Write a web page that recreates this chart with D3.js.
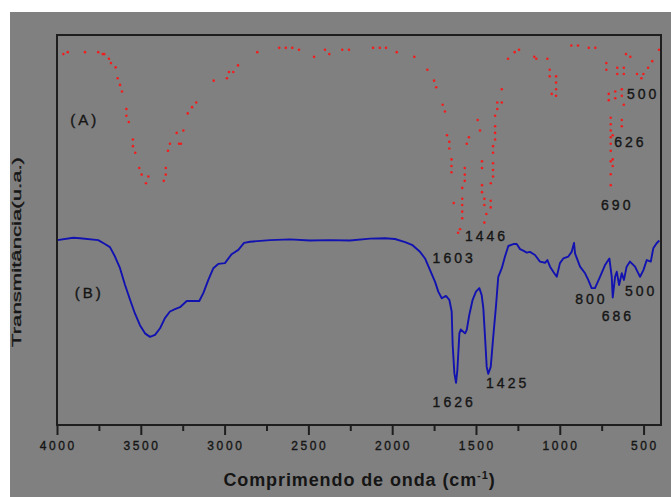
<!DOCTYPE html>
<html>
<head>
<meta charset="utf-8">
<script src="https://cdn.jsdelivr.net/npm/d3@7"></script>
<style>
  html, body { margin: 0; padding: 0; background: #ffffff; }
  svg { display: block; }
  text { font-family: "Liberation Sans", Arial, sans-serif; fill: #151515; }
</style>
</head>
<body>
<svg id="chart" width="671" height="497"></svg>
<script>
// Spectrum (A): sampled points, wavenumber (cm-1) and transmittance (a.u.)
const specA_wn = [3962,3936,3833,3754,3727,3718,3690,3678,3650,3638,3624,3612,3586,3586,3572,3547,3547,3533,3509,3495,3469,3455,3363,3351,3351,3338,3326,3286,3272,3260,3246,3220,3194,3169,3065,2986,2974,2948,2920,2805,2674,2635,2596,2556,2466,2401,2375,2298,2258,2114,2074,2037,1973,1868,1790,1750,1737,1699,1685,1673,1659,1659,1646,1646,1646,1633,1607,1595,1582,1582,1582,1582,1582,1567,1567,1567,1555,1542,1490,1476,1464,1464,1464,1464,1450,1450,1438,1450,1412,1412,1412,1398,1398,1398,1398,1398,1386,1386,1386,1386,1373,1373,1346,1346,1309,1269,1243,1152,1140,1074,1060,1060,1048,1022,1022,1022,1022,931,891,827,788,722,722,708,708,696,696,696,696,684,696,696,684,696,684,696,696,669,669,657,657,630,630,618,630,630,618,618,605,579,539,513,501,473,448,408];
const specA_t = [95.1,95.6,95.6,95.6,95.1,95.1,93.9,92.8,91.7,88.9,87.2,85.5,81.0,79.3,77.7,73.2,71.5,69.8,65.9,64.2,62.0,63.7,62.6,64.2,65.9,70.3,72.1,74.9,72.1,72.1,75.5,79.9,81.5,82.7,88.3,88.9,90.5,90.5,92.2,95.6,96.7,96.7,96.7,96.2,94.4,96.2,95.1,96.2,96.2,96.7,96.7,96.7,95.6,94.4,91.1,88.3,86.6,82.1,80.4,74.3,72.6,70.9,68.1,66.4,64.8,56.9,49.3,50.2,53.0,54.7,56.4,58.0,60.8,62.6,64.2,65.9,72.1,73.8,78.2,75.5,67.6,65.9,61.5,59.7,58.0,56.4,54.1,51.9,57.5,55.8,62.0,63.7,65.4,67.1,69.8,71.5,73.2,74.9,76.6,79.3,81.0,82.7,82.7,86.1,93.9,95.6,96.2,94.4,93.9,93.9,91.1,89.4,84.9,89.4,87.8,86.1,84.4,97.3,97.3,96.7,96.7,92.8,91.1,84.9,83.3,78.8,77.1,75.5,73.8,74.3,72.1,70.3,68.1,67.6,66.4,64.3,61.5,85.5,83.8,91.6,90.0,86.1,84.4,82.1,78.2,76.6,91.6,90.0,95.1,94.4,90.0,88.9,90.0,91.6,93.3,96.2];

// Spectrum (B): continuous trace, wavenumber (cm-1) and transmittance (a.u.)
const specB_wn = [3998,3903,3863,3754,3714,3684,3654,3624,3594,3564,3535,3505,3475,3445,3415,3385,3356,3326,3296,3266,3226,3151,3127,3097,3067,3038,2998,2958,2918,2884,2848,2729,2610,2490,2371,2252,2132,2043,1983,1923,1882,1834,1804,1774,1744,1725,1704,1679,1659,1645,1639,1629,1619,1611,1599,1591,1565,1555,1540,1520,1500,1480,1466,1456,1446,1436,1427,1412,1397,1380,1367,1346,1327,1307,1277,1257,1237,1218,1197,1178,1148,1118,1088,1074,1058,1039,1018,999,979,949,929,915,909,879,849,830,810,790,760,730,704,690,684,670,660,646,630,617,601,581,551,521,501,481,457,442,422,406];
const specB_t = [47.4,48.0,47.9,47.4,46.4,45.6,43.2,40.2,35.9,32.1,28.6,25.6,23.5,22.6,23.1,24.8,27.4,29.1,29.7,30.2,31.8,31.8,33.8,37.2,40.2,41.3,41.5,43.8,44.9,46.7,47.0,47.4,47.6,47.3,47.4,47.3,47.8,47.9,47.7,46.9,46.2,44.4,42.7,39.7,36.7,34.2,32.5,33.1,32.1,29.1,20.5,13.3,10.8,14.1,23.5,24.5,23.5,24.4,28.2,32.1,34.2,35.1,33.3,29.9,22.6,14.9,13.1,14.9,22.6,30.8,38.0,40.2,43.2,45.9,46.4,46.4,45.1,44.7,44.2,44.4,43.6,41.9,41.6,42.3,40.6,39.3,38.0,41.5,42.7,43.2,44.4,46.7,44.0,40.6,38.9,37.2,35.1,35.1,38.0,41.0,42.7,38.0,32.7,38.0,39.3,35.9,38.9,37.2,40.6,41.9,40.6,38.0,39.7,42.3,41.9,45.3,46.6,47.3];

// Axis ticks
const majorTicks = [4000, 3500, 3000, 2500, 2000, 1500, 1000, 500];
const minorTicks = [3750, 3250, 2750, 2250, 1750, 1250, 750];

// Peak labels: text, anchor wavenumber, anchor transmittance
const labelText = ["(A)", "(B)", "1446", "1603", "690", "626", "500", "1626", "1425", "800", "686", "500"];
const labelWn   = [3843, 3817, 1446, 1639, 666, 588, 511, 1639, 1320, 820, 662, 523];
const labelT    = [78.2, 33.9, 48.5, 42.8, 56.4, 72.5, 84.9, 6.0, 10.8, 32.2, 28.0, 34.4];

const svg = d3.select("#chart");
const W = 671, H = 497;
const plot = { left: 57, right: 661, top: 35, bottom: 425 };

const x = d3.scaleLinear().domain([4000, 396]).range([plot.left, plot.right]);
const y = d3.scaleLinear().domain([0, 100]).range([plot.bottom, plot.top]);

// Grey canvas behind everything
svg.append("rect").attr("x", 10).attr("y", 12).attr("width", W - 10).attr("height", H - 12)
  .attr("fill", "#808080");

// Helper for spaced-out text, shifted so trailing spacing does not offset the centre
function spacedText(g, str, px, py, size, spacing) {
  return g.append("text")
    .attr("x", px + spacing / 2).attr("y", py)
    .attr("text-anchor", "middle")
    .style("font-size", size + "px")
    .style("letter-spacing", spacing + "px")
    .attr("stroke", "#151515").attr("stroke-width", 0.35)
    .text(str);
}

// Spectrum B line
const line = d3.line().x((d, i) => x(specB_wn[i])).y((d, i) => y(specB_t[i]));
svg.append("path")
  .datum(specB_t)
  .attr("d", line)
  .attr("fill", "none")
  .attr("stroke", "#1212b0")
  .attr("stroke-width", 1.9)
  .attr("stroke-linejoin", "round");

// Spectrum A dots
svg.append("g").selectAll("circle")
  .data(specA_t)
  .join("circle")
  .attr("cx", (d, i) => x(specA_wn[i]))
  .attr("cy", d => y(d))
  .attr("r", 1.3)
  .attr("fill", "#f01e1e");

// Frame
svg.append("rect")
  .attr("x", plot.left).attr("y", plot.top)
  .attr("width", plot.right - plot.left).attr("height", plot.bottom - plot.top)
  .attr("fill", "none").attr("stroke", "#1e1e1e").attr("stroke-width", 2);

// Bottom axis: major ticks with labels, minor ticks without
const axisG = svg.append("g").attr("transform", `translate(0,${plot.bottom})`);
axisG.call(d3.axisBottom(x).tickValues(majorTicks).tickSizeInner(10).tickSizeOuter(0).tickFormat(() => ""));
const minorG = svg.append("g").attr("transform", `translate(0,${plot.bottom})`);
minorG.call(d3.axisBottom(x).tickValues(minorTicks).tickSizeInner(6).tickSizeOuter(0).tickFormat(() => ""));
[axisG, minorG].forEach(g => {
  g.select(".domain").remove();
  g.selectAll(".tick line").attr("stroke", "#1e1e1e").attr("stroke-width", 2);
});
const tickLabels = svg.append("g");
majorTicks.forEach(v => {
  spacedText(tickLabels, d3.format("d")(v), x(v), 450, 12, 2.6);
});

// Axis titles
const xt = svg.append("text")
  .attr("x", (plot.left + plot.right) / 2 + 0.5).attr("y", 486)
  .attr("text-anchor", "middle")
  .style("font-size", "18px").style("font-weight", "bold")
  .style("letter-spacing", "0.9px");
xt.append("tspan").text("Comprimendo de onda (cm");
xt.append("tspan").attr("dy", -7).style("font-size", "11px").text("-1");
xt.append("tspan").attr("dy", 7).text(")");

svg.append("text")
  .attr("transform", "translate(21,252) rotate(-90)")
  .attr("text-anchor", "middle")
  .attr("textLength", 190).attr("lengthAdjust", "spacingAndGlyphs")
  .attr("stroke", "#151515").attr("stroke-width", 0.3)
  .style("font-size", "12px")
  .text("Transmitância(u.a.)");

// Peak labels
const labG = svg.append("g");
labelText.forEach((s, i) => {
  const isTag = s.startsWith("(");
  spacedText(labG, s, x(labelWn[i]), y(labelT[i]) + 5, isTag ? 15 : 14, 3);
});
</script>
</body>
</html>
